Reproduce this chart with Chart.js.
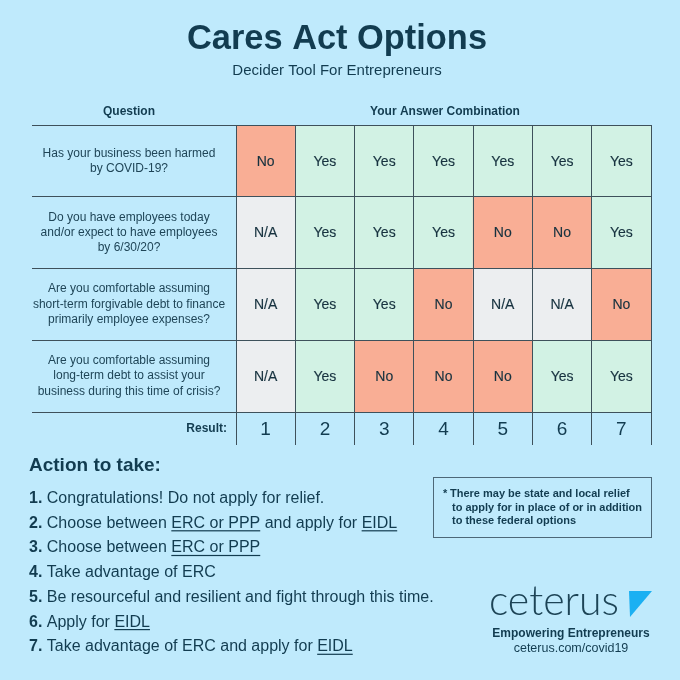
<!DOCTYPE html>
<html>
<head>
<meta charset="utf-8">
<title>Cares Act Options</title>
<script src="https://cdn.jsdelivr.net/npm/chart.js@4.4.1/dist/chart.umd.min.js"></script>
<style>
    html, body { margin: 0; padding: 0; background: #bfeafc; }
    #wrap { width: 680px; height: 680px; position: relative; }
</style>
</head>
<body>
<div id="wrap"><canvas id="deciderChart"></canvas></div>
<script>
// ---- data ---------------------------------------------------
const questions = [
    ['Has your business been harmed', 'by COVID-19?'],
    ['Do you have employees today', 'and/or expect to have employees', 'by 6/30/20?'],
    ['Are you comfortable assuming', 'short-term forgivable debt to finance', 'primarily employee expenses?'],
    ['Are you comfortable assuming', 'long-term debt to assist your', 'business during this time of crisis?']
];
const results = ['1', '2', '3', '4', '5', '6', '7'];
const harmedAnswers    = ['No',  'Yes', 'Yes', 'Yes', 'Yes', 'Yes', 'Yes'];
const employeeAnswers  = ['N/A', 'Yes', 'Yes', 'Yes', 'No',  'No',  'Yes'];
const shortTermAnswers = ['N/A', 'Yes', 'Yes', 'No',  'N/A', 'N/A', 'No'];
const longTermAnswers  = ['N/A', 'Yes', 'No',  'No',  'No',  'Yes', 'Yes'];
const answerRows = [harmedAnswers, employeeAnswers, shortTermAnswers, longTermAnswers];

const actions = [
    [['1.', 'b'], [' Congratulations! Do not apply for relief.']],
    [['2.', 'b'], [' Choose between '], ['ERC or PPP', 'u'], [' and apply for '], ['EIDL', 'u']],
    [['3.', 'b'], [' Choose between '], ['ERC or PPP', 'u']],
    [['4.', 'b'], [' Take advantage of ERC']],
    [['5.', 'b'], [' Be resourceful and resilient and fight through this time.']],
    [['6.', 'b'], [' Apply for '], ['EIDL', 'u']],
    [['7.', 'b'], [' Take advantage of ERC and apply for '], ['EIDL', 'u']]
];
const noteLines = ['There may be state and local relief', 'to apply for in place of or in addition', 'to these federal options'];

const answerColors = { 'Yes': '#d2f2e4', 'No': '#f9ae95', 'N/A': '#eceef0' };
const FONT = "'Liberation Sans', Arial, sans-serif";
const INK = '#123c50';
const LINE = '#3e515b';

// ---- text / decoration plugin -------------------------------
const backgroundPlugin = {
    id: 'bg',
    beforeDraw(chart) {
        const ctx = chart.ctx;
        ctx.save();
        ctx.fillStyle = '#bfeafc';
        ctx.fillRect(0, 0, chart.width, chart.height);
        ctx.restore();
    }
};

const textPlugin = {
    id: 'deciderText',
    afterDraw(chart) {
        const { ctx, chartArea: area, scales: { x, y } } = chart;
        ctx.save();
        ctx.fillStyle = INK;

        // title
        ctx.textAlign = 'center';
        ctx.textBaseline = 'alphabetic';
        ctx.font = 'bold 34.5px ' + FONT;
        ctx.fillText('Cares Act Options', 337, 49, 300);
        ctx.font = '15px ' + FONT;
        ctx.fillText('Decider Tool For Entrepreneurs', 337, 75, 212);

        // headers
        const qCenter = y.left + 97;
        ctx.font = 'bold 12px ' + FONT;
        ctx.fillText('Question', qCenter, 115);
        ctx.fillText('Your Answer Combination', 445, 115);

        // questions
        ctx.textBaseline = 'middle';
        ctx.font = '12px ' + FONT;
        ctx.fillStyle = '#1f4557';
        questions.forEach((lines, r) => {
            const mid = y.getPixelForValue(r + 0.5);
            const lh = 15.3;
            lines.forEach((line, k) => {
                ctx.fillText(line, qCenter, mid + (k - (lines.length - 1) / 2) * lh);
            });
        });

        // cell answers (thin stroke to mimic a medium weight)
        ctx.font = '14px ' + FONT;
        ctx.fillStyle = '#17323f';
        ctx.strokeStyle = '#17323f';
        ctx.lineWidth = 0.15;
        chart.data.datasets.forEach((ds, r) => {
            ds.answers.forEach((a, i) => {
                const px = x.getPixelForValue(i);
                const py = y.getPixelForValue(r + 0.5) + 1;
                ctx.fillText(a, px, py);
                ctx.strokeText(a, px, py);
            });
        });

        // result row
        const resY = area.bottom + 17;
        ctx.fillStyle = INK;
        ctx.textAlign = 'right';
        ctx.font = 'bold 12px ' + FONT;
        ctx.fillText('Result:', area.left - 9, resY);
        ctx.textAlign = 'center';
        ctx.font = '19px ' + FONT;
        results.forEach((label, i) => {
            ctx.fillText(label, x.getPixelForValue(i), resY + 1);
        });

        // actions
        ctx.textAlign = 'left';
        ctx.textBaseline = 'alphabetic';
        ctx.font = 'bold 19px ' + FONT;
        ctx.fillText('Action to take:', 29, 471);
        actions.forEach((segs, k) => {
            let cx = 29;
            const by = 503 + k * 24.7;
            segs.forEach(([t, style]) => {
                ctx.font = (style === 'b' ? 'bold ' : '') + '16px ' + FONT;
                ctx.fillText(t, cx, by);
                const w = ctx.measureText(t).width;
                if (style === 'u') {
                    ctx.fillRect(cx, by + 2.5, w, 1.2);
                }
                cx += w;
            });
        });

        // note box
        ctx.strokeStyle = '#4d6878';
        ctx.lineWidth = 1;
        ctx.strokeRect(433.5, 477.5, 218, 60);
        ctx.font = 'bold 11px ' + FONT;
        ctx.fillText('*', 443, 497);
        noteLines.forEach((line, k) => {
            ctx.fillText(line, k === 0 ? 450 : 452, 497 + k * 13.6);
        });

        // logo
        ctx.font = "300 41px Lato, Roboto, " + FONT;
        ctx.fillStyle = '#1d4456';
        ctx.textAlign = 'right';
        ctx.fillText('ceterus', 619, 615);
        ctx.fillStyle = '#1bb0f2';
        ctx.beginPath();
        ctx.moveTo(629, 591);
        ctx.lineTo(652, 591);
        ctx.lineTo(630, 617);
        ctx.closePath();
        ctx.fill();

        ctx.fillStyle = INK;
        ctx.textAlign = 'center';
        ctx.font = 'bold 12px ' + FONT;
        ctx.fillText('Empowering Entrepreneurs', 571, 637);
        ctx.font = '12.5px ' + FONT;
        ctx.fillText('ceterus.com/covid19', 571, 652);

        ctx.restore();
    }
};

// ---- chart --------------------------------------------------
const ctx = document.getElementById('deciderChart').getContext('2d');
const deciderChart = new Chart(ctx, {
    type: 'bar',
    data: {
        labels: results,
        datasets: answerRows.map((row, r) => ({
            label: 'Question ' + (r + 1),
            data: row.map(() => [r, r + 1]),
            answers: row,
            backgroundColor: row.map(a => answerColors[a]),
            borderWidth: 0,
            barPercentage: 1,
            categoryPercentage: 1,
            grouped: false
        }))
    },
    options: {
        responsive: true,
        maintainAspectRatio: false,
        animation: false,
        events: [],
        layout: { padding: { left: 32, right: 29, top: 125, bottom: 235 } },
        plugins: {
            legend: { display: false },
            tooltip: { enabled: false }
        },
        scales: {
            x: {
                type: 'category',
                offset: true,
                grid: { z: 1, offset: true, color: LINE, lineWidth: 1, tickLength: 33, tickColor: LINE },
                border: { z: 1, display: true, color: LINE },
                ticks: { display: false }
            },
            y: {
                type: 'linear',
                min: 0,
                max: 4,
                reverse: true,
                grid: { z: 1, color: LINE, lineWidth: 1, tickLength: 204, tickColor: LINE },
                border: { z: 1, display: true, color: LINE },
                ticks: { display: false, stepSize: 1 }
            }
        }
    },
    plugins: [backgroundPlugin, textPlugin]
});
</script>
</body>
</html>
